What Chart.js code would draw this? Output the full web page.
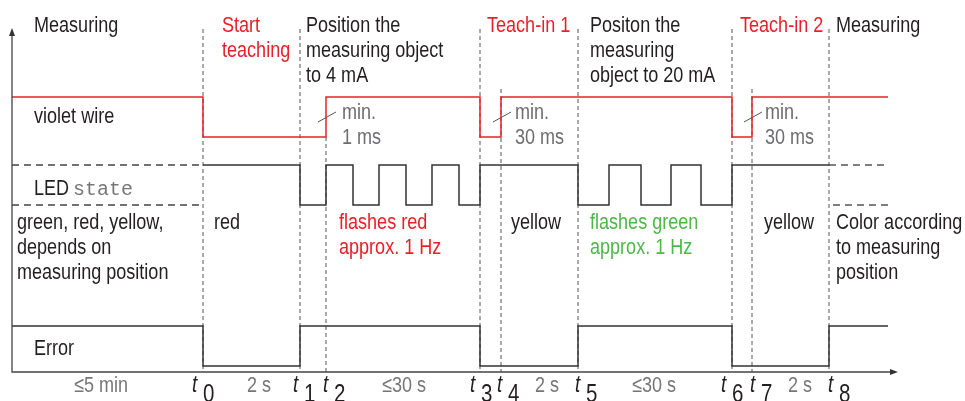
<!DOCTYPE html>
<html>
<head>
<meta charset="utf-8">
<script src="https://cdn.jsdelivr.net/npm/chart.js@4.4.1/dist/chart.umd.min.js"></script>
<style>
  html, body { margin: 0; padding: 0; background: #fff; }
  #wrap { width: 965px; height: 401px; position: relative; }
</style>
</head>
<body>
<div id="wrap"><canvas id="timing-chart"></canvas></div>
<script>
// Zeitpunkte t0..t8 (Diagrammeinheiten ab der y-Achse)
const timeMarks = [191, 288, 314, 468, 489, 566, 720, 740, 817];
const timeEnd = 876;
const markNames = ['0', '1', '2', '3', '4', '5', '6', '7', '8'];

// Signale: Flankenzeiten und Pegel (1 = high, 0 = low)
const violetTimes  = [0, 191, 314, 468, 489, 720, 740, 876];
const violetLevels = [1, 0,   1,   0,   1,   0,   1,   1];

const ledTimes  = [191, 288, 314, 341, 367, 394, 420, 447, 468, 566, 597, 629, 659, 689, 720, 817];
const ledLevels = [1,   0,   1,   0,   1,   0,   1,   0,   1,   0,   1,   0,   1,   0,   1,   1];

const errorTimes  = [0, 191, 288, 468, 566, 720, 817, 876];
const errorLevels = [1, 0,   1,   0,   1,   0,   1,   1];

// Dauer zwischen den Zeitpunkten
const durationLabels = ['≤5 min', '2 s', '≤30 s', '2 s', '≤30 s', '2 s'];

// ---- Layout ----
const tracks = {
    violet: { low: 235, high: 275 },
    led:    { low: 167, high: 207 },
    error:  { low: 6,   high: 46 }
};
const markerTop = [343, 343, 235, 343, 283, 343, 343, 283, 343];
const pointerMarks = [2, 4, 7];

const RED = '#e8202a';
const GREEN = '#4cb848';
const DARK = '#231f20';
const GRAY = '#6d6e70';
const LINE = '#333';

function stepPoints(times, levels, track) {
    return times.map((t, i) => ({ x: t, y: levels[i] ? track.high : track.low }));
}

function signal(label, times, levels, track, color) {
    return {
        label: label,
        data: stepPoints(times, levels, track),
        borderColor: color,
        borderWidth: 1.5,
        stepped: 'before',
        pointRadius: 0
    };
}

function dashedLine(points, dash, color, width) {
    return {
        data: points,
        borderColor: color,
        borderWidth: width,
        borderDash: dash,
        pointRadius: 0
    };
}

const datasets = [
    signal('violet wire', violetTimes, violetLevels, tracks.violet, RED),
    signal('LED state', ledTimes, ledLevels, tracks.led, LINE),
    signal('Error', errorTimes, errorLevels, tracks.error, LINE),
    // LED Zustand unbestimmt (gestrichelt)
    dashedLine([{ x: 0, y: tracks.led.high }, { x: timeMarks[0], y: tracks.led.high }], [7, 5], '#444', 1.3),
    dashedLine([{ x: 0, y: tracks.led.low }, { x: timeMarks[0], y: tracks.led.low }], [7, 5], '#444', 1.3),
    dashedLine([{ x: timeMarks[8], y: tracks.led.high }, { x: timeEnd, y: tracks.led.high }], [7, 5], '#555', 1.3),
    dashedLine([{ x: timeMarks[8] + 4, y: tracks.led.low }, { x: timeEnd, y: tracks.led.low }], [7, 5], '#555', 1.3)
];

// senkrechte Markierungen t0..t8
timeMarks.forEach((t, i) => {
    datasets.push(dashedLine([{ x: t, y: markerTop[i] }, { x: t, y: 0 }], [4, 3], '#555', 1));
});

// Hinweisstriche "min."
pointerMarks.forEach((m) => {
    const t = timeMarks[m];
    datasets.push({
        data: [{ x: t - 8, y: tracks.violet.low + 15 }, { x: t + 10, y: tracks.violet.low + 25 }],
        borderColor: '#555',
        borderWidth: 1,
        pointRadius: 0
    });
});

// ---- Texte ----
const labels = [
    ['Measuring', 34, 32, DARK],
    ['Start', 222, 32, RED], ['teaching', 222, 57, RED],
    ['Position the', 306, 32, DARK], ['measuring object', 306, 57, DARK], ['to 4 mA', 306, 82, DARK],
    ['Teach-in 1', 487, 32, RED],
    ['Positon the', 590, 32, DARK], ['measuring', 590, 57, DARK], ['object to 20 mA', 590, 82, DARK],
    ['Teach-in 2', 740, 32, RED],
    ['Measuring', 836, 32, DARK],
    ['violet wire', 34, 123, DARK],
    ['min.', 342, 119, GRAY], ['1 ms', 342, 144, GRAY],
    ['min.', 515, 119, GRAY], ['30 ms', 515, 144, GRAY],
    ['min.', 765, 119, GRAY], ['30 ms', 765, 144, GRAY],
    ['LED', 34, 195, DARK],
    ['green, red, yellow,', 17, 229, DARK], ['depends on', 17, 254, DARK], ['measuring position', 17, 279, DARK],
    ['red', 214, 229, DARK],
    ['flashes red', 339, 229, RED], ['approx. 1 Hz', 339, 254, RED],
    ['yellow', 511, 229, DARK],
    ['flashes green', 590, 229, GREEN], ['approx. 1 Hz', 590, 254, GREEN],
    ['yellow', 764, 229, DARK],
    ['Color according', 836, 229, DARK], ['to measuring', 836, 254, DARK], ['position', 836, 279, DARK],
    ['Error', 34, 355, DARK]
];
const durationX = [74, 247, 382, 535, 632, 788];
const tLetterX = [192, 293, 323, 470, 497, 575, 721, 750, 828];

// schmale Schrift vorhanden? sonst normale Schrift gestaucht
const probe = document.createElement('canvas').getContext('2d');
probe.font = '22px "Liberation Sans Narrow", monospace';
const wNarrow = probe.measureText('Measuring object').width;
probe.font = '22px monospace';
const hasNarrow = Math.abs(wNarrow - probe.measureText('Measuring object').width) > 1;

function drawText(ctx, text, x, y, color, style, size) {
    ctx.save();
    ctx.fillStyle = color;
    ctx.textBaseline = 'alphabetic';
    ctx.textAlign = 'left';
    const st = style ? style + ' ' : '';
    const px = (size || 22) + 'px ';
    if (hasNarrow) {
        ctx.font = st + px + '"Liberation Sans Narrow"';
        ctx.fillText(text, x, y);
    } else {
        ctx.font = st + px + '"Liberation Sans", Arial, sans-serif';
        ctx.translate(x, y);
        ctx.scale(0.82, 1);
        ctx.fillText(text, 0, 0);
    }
    ctx.restore();
}

const diagramPlugin = {
    id: 'diagramPlugin',
    afterDraw(chart) {
        const ctx = chart.ctx;
        const a = chart.chartArea;
        ctx.save();
        // Achsen
        ctx.strokeStyle = '#444';
        ctx.lineWidth = 1.3;
        ctx.beginPath();
        ctx.moveTo(a.left, a.top + 6);
        ctx.lineTo(a.left, a.bottom);
        ctx.lineTo(a.right - 6, a.bottom);
        ctx.stroke();
        ctx.fillStyle = '#333';
        ctx.beginPath();
        ctx.moveTo(a.left, a.top);
        ctx.lineTo(a.left - 3, a.top + 8);
        ctx.lineTo(a.left + 3, a.top + 8);
        ctx.closePath();
        ctx.fill();
        ctx.beginPath();
        ctx.moveTo(a.right, a.bottom);
        ctx.lineTo(a.right - 8, a.bottom - 3);
        ctx.lineTo(a.right - 8, a.bottom + 3);
        ctx.closePath();
        ctx.fill();
        ctx.restore();

        labels.forEach(([text, x, y, color]) => drawText(ctx, text, x, y, color));

        ctx.save();
        ctx.fillStyle = '#777';
        ctx.font = '20px "Liberation Mono", "DejaVu Sans Mono", monospace';
        ctx.fillText('state', 73, 195);
        ctx.restore();

        durationLabels.forEach((txt, i) => drawText(ctx, txt, durationX[i], 392, '#777'));
        markNames.forEach((n, i) => {
            drawText(ctx, 't', tLetterX[i], 392, DARK, 'italic', 23);
            drawText(ctx, n, tLetterX[i] + 11, 402, DARK, '', 25);
        });
    }
};

new Chart(document.getElementById('timing-chart'), {
    type: 'line',
    data: { datasets: datasets },
    options: {
        responsive: true,
        maintainAspectRatio: false,
        animation: false,
        layout: { padding: { left: 12, top: 28, right: 67, bottom: 29 } },
        scales: {
            x: { type: 'linear', min: 0, max: 886, display: false },
            y: { type: 'linear', min: 0, max: 344, display: false }
        },
        elements: { line: { tension: 0 } },
        plugins: {
            legend: { display: false },
            tooltip: { enabled: false }
        }
    },
    plugins: [diagramPlugin]
});
</script>
</body>
</html>
